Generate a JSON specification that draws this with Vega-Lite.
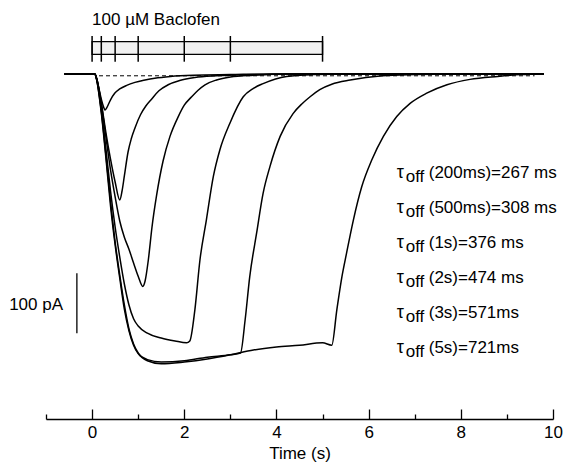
{
  "$schema": "https://vega.github.io/schema/vega-lite/v6.json",
  "width": 507,
  "height": 419,
  "autosize": {"type": "none"},
  "padding": {"left": 46, "top": 0, "right": 18, "bottom": 47},
  "config": {"view": {"stroke": null}, "font": "Liberation Sans"},
  "datasets": {
    "traces": [
      {"s":"200ms","t":-0.6,"v":0},{"s":"200ms","t":0.06,"v":0},{"s":"200ms","t":0.1,"v":-8},{"s":"200ms","t":0.15,"v":-25},{"s":"200ms","t":0.2,"v":-42},{"s":"200ms","t":0.25,"v":-55},{"s":"200ms","t":0.28,"v":-60},{"s":"200ms","t":0.32,"v":-56},{"s":"200ms","t":0.4,"v":-43},{"s":"200ms","t":0.49,"v":-32},{"s":"200ms","t":0.6,"v":-25},{"s":"200ms","t":0.75,"v":-19},{"s":"200ms","t":0.93,"v":-14},{"s":"200ms","t":1.15,"v":-10},{"s":"200ms","t":1.36,"v":-7},{"s":"200ms","t":1.7,"v":-4},{"s":"200ms","t":2.2,"v":-2},{"s":"200ms","t":3,"v":-1},{"s":"200ms","t":4,"v":0},{"s":"200ms","t":9.8,"v":0},
      {"s":"500ms","t":-0.6,"v":0},{"s":"500ms","t":0.06,"v":0},{"s":"500ms","t":0.1,"v":-8},{"s":"500ms","t":0.2,"v":-48},{"s":"500ms","t":0.3,"v":-98},{"s":"500ms","t":0.4,"v":-142},{"s":"500ms","t":0.5,"v":-180},{"s":"500ms","t":0.6,"v":-210},{"s":"500ms","t":0.65,"v":-195},{"s":"500ms","t":0.7,"v":-170},{"s":"500ms","t":0.78,"v":-130},{"s":"500ms","t":0.85,"v":-108},{"s":"500ms","t":0.93,"v":-90},{"s":"500ms","t":1.05,"v":-68},{"s":"500ms","t":1.17,"v":-53},{"s":"500ms","t":1.29,"v":-42},{"s":"500ms","t":1.45,"v":-28},{"s":"500ms","t":1.65,"v":-18},{"s":"500ms","t":1.9,"v":-11},{"s":"500ms","t":2.23,"v":-6},{"s":"500ms","t":2.7,"v":-3},{"s":"500ms","t":3.5,"v":-1},{"s":"500ms","t":4.5,"v":0},{"s":"500ms","t":9.8,"v":0},
      {"s":"1s","t":-0.6,"v":0},{"s":"1s","t":0.06,"v":0},{"s":"1s","t":0.1,"v":-8},{"s":"1s","t":0.2,"v":-50},{"s":"1s","t":0.3,"v":-105},{"s":"1s","t":0.4,"v":-160},{"s":"1s","t":0.5,"v":-205},{"s":"1s","t":0.6,"v":-245},{"s":"1s","t":0.7,"v":-272},{"s":"1s","t":0.8,"v":-292},{"s":"1s","t":0.9,"v":-315},{"s":"1s","t":1.0,"v":-337},{"s":"1s","t":1.1,"v":-354},{"s":"1s","t":1.15,"v":-345},{"s":"1s","t":1.22,"v":-310},{"s":"1s","t":1.3,"v":-255},{"s":"1s","t":1.4,"v":-202},{"s":"1s","t":1.54,"v":-145},{"s":"1s","t":1.69,"v":-104},{"s":"1s","t":1.87,"v":-71},{"s":"1s","t":2.0,"v":-52},{"s":"1s","t":2.16,"v":-38},{"s":"1s","t":2.3,"v":-27},{"s":"1s","t":2.45,"v":-18},{"s":"1s","t":2.7,"v":-10},{"s":"1s","t":3.0,"v":-5},{"s":"1s","t":3.5,"v":-2},{"s":"1s","t":4.2,"v":0},{"s":"1s","t":9.8,"v":0},
      {"s":"2s","t":-0.6,"v":0},{"s":"2s","t":0.06,"v":0},{"s":"2s","t":0.1,"v":-8},{"s":"2s","t":0.2,"v":-58},{"s":"2s","t":0.3,"v":-125},{"s":"2s","t":0.4,"v":-195},{"s":"2s","t":0.5,"v":-255},{"s":"2s","t":0.6,"v":-305},{"s":"2s","t":0.7,"v":-350},{"s":"2s","t":0.8,"v":-385},{"s":"2s","t":0.9,"v":-408},{"s":"2s","t":1.0,"v":-420},{"s":"2s","t":1.2,"v":-432},{"s":"2s","t":1.5,"v":-440},{"s":"2s","t":1.8,"v":-445},{"s":"2s","t":2.05,"v":-448},{"s":"2s","t":2.12,"v":-445},{"s":"2s","t":2.23,"v":-393},{"s":"2s","t":2.34,"v":-310},{"s":"2s","t":2.48,"v":-243},{"s":"2s","t":2.63,"v":-171},{"s":"2s","t":2.77,"v":-127},{"s":"2s","t":2.99,"v":-82},{"s":"2s","t":3.28,"v":-38},{"s":"2s","t":3.5,"v":-24},{"s":"2s","t":3.71,"v":-16},{"s":"2s","t":4.22,"v":-4},{"s":"2s","t":4.8,"v":-1},{"s":"2s","t":5.5,"v":0},{"s":"2s","t":9.8,"v":0},
      {"s":"3s","t":-0.6,"v":0},{"s":"3s","t":0.06,"v":0},{"s":"3s","t":0.1,"v":-10},{"s":"3s","t":0.2,"v":-65},{"s":"3s","t":0.3,"v":-140},{"s":"3s","t":0.4,"v":-220},{"s":"3s","t":0.5,"v":-285},{"s":"3s","t":0.6,"v":-340},{"s":"3s","t":0.7,"v":-392},{"s":"3s","t":0.8,"v":-428},{"s":"3s","t":0.9,"v":-452},{"s":"3s","t":1.0,"v":-466},{"s":"3s","t":1.2,"v":-476},{"s":"3s","t":1.5,"v":-480},{"s":"3s","t":2.0,"v":-478},{"s":"3s","t":2.5,"v":-472},{"s":"3s","t":3.0,"v":-468},{"s":"3s","t":3.22,"v":-465},{"s":"3s","t":3.32,"v":-410},{"s":"3s","t":3.42,"v":-338},{"s":"3s","t":3.57,"v":-265},{"s":"3s","t":3.71,"v":-199},{"s":"3s","t":3.86,"v":-154},{"s":"3s","t":4.08,"v":-104},{"s":"3s","t":4.36,"v":-66},{"s":"3s","t":4.55,"v":-50},{"s":"3s","t":4.73,"v":-38},{"s":"3s","t":4.94,"v":-26},{"s":"3s","t":5.2,"v":-17},{"s":"3s","t":5.6,"v":-10},{"s":"3s","t":6.3,"v":-3},{"s":"3s","t":7,"v":-1},{"s":"3s","t":7.8,"v":0},{"s":"3s","t":9.8,"v":0},
      {"s":"5s","t":-0.6,"v":0},{"s":"5s","t":0.06,"v":0},{"s":"5s","t":0.1,"v":-10},{"s":"5s","t":0.2,"v":-62},{"s":"5s","t":0.3,"v":-135},{"s":"5s","t":0.4,"v":-212},{"s":"5s","t":0.5,"v":-280},{"s":"5s","t":0.6,"v":-335},{"s":"5s","t":0.7,"v":-385},{"s":"5s","t":0.8,"v":-425},{"s":"5s","t":0.9,"v":-450},{"s":"5s","t":1.0,"v":-465},{"s":"5s","t":1.2,"v":-478},{"s":"5s","t":1.5,"v":-483},{"s":"5s","t":2.0,"v":-480},{"s":"5s","t":2.5,"v":-475},{"s":"5s","t":3.0,"v":-468},{"s":"5s","t":3.5,"v":-460},{"s":"5s","t":4.0,"v":-455},{"s":"5s","t":4.5,"v":-452},{"s":"5s","t":5.0,"v":-448},{"s":"5s","t":5.2,"v":-452},{"s":"5s","t":5.31,"v":-393},{"s":"5s","t":5.42,"v":-338},{"s":"5s","t":5.52,"v":-299},{"s":"5s","t":5.67,"v":-243},{"s":"5s","t":5.85,"v":-188},{"s":"5s","t":6.07,"v":-143},{"s":"5s","t":6.32,"v":-104},{"s":"5s","t":6.61,"v":-71},{"s":"5s","t":6.9,"v":-49},{"s":"5s","t":7.26,"v":-32},{"s":"5s","t":7.7,"v":-18},{"s":"5s","t":8.2,"v":-9},{"s":"5s","t":8.8,"v":-4},{"s":"5s","t":9.3,"v":-1},{"s":"5s","t":9.8,"v":0}
    ],
    "bar": [{"start": 0, "end": 5}],
    "marks": [{"t":0},{"t":0.2},{"t":0.5},{"t":1},{"t":2},{"t":3},{"t":5}],
    "labels": [
      {"k":1,"txt":"(200ms)=267 ms"},
      {"k":2,"txt":"(500ms)=308 ms"},
      {"k":3,"txt":"(1s)=376 ms"},
      {"k":4,"txt":"(2s)=474 ms"},
      {"k":5,"txt":"(3s)=571ms"},
      {"k":6,"txt":"(5s)=721ms"}
    ]
  },
  "layer": [
    {
      "layer": [
        {
          "data": {"name": "traces"},
          "mark": {"type": "line", "color": "black", "strokeWidth": 1.5, "interpolate": "monotone"},
          "encoding": {
            "x": {
              "field": "t", "type": "quantitative",
              "scale": {"domain": [-1, 10], "nice": false, "zero": false},
              "axis": {
                "title": "Time (s)",
                "values": [-1,0,1,2,3,4,5,6,7,8,9,10],
                "labelExpr": "datum.value % 2 === 0 ? datum.label : ''",
                "tickSize": {"condition": {"test": "datum.value % 2 === 0", "value": -10}, "value": -5},
                "grid": false,
                "domainColor": "black", "domainWidth": 1.3,
                "tickColor": "black", "tickWidth": 1.3,
                "labelColor": "black", "labelFontSize": 17, "labelFont": "Liberation Sans",
                "labelPadding": 15, "labelFlush": false, "labelOverlap": false,
                "titleFontSize": 17, "titleFontWeight": "normal", "titleColor": "black", "titleFont": "Liberation Sans",
                "titlePadding": 0
              }
            },
            "y": {"field": "v", "type": "quantitative", "scale": {"domain": [-575, 123.3], "nice": false, "zero": false}, "axis": null},
            "detail": {"field": "s"}
          }
        },
        {
          "data": {"name": "bar"},
          "mark": {"type": "rect", "fill": "#f1f1f1", "stroke": "black", "strokeWidth": 1.3},
          "encoding": {
            "x": {"field": "start", "type": "quantitative"},
            "x2": {"field": "end"},
            "y": {"datum": 32.8, "type": "quantitative", "axis": null},
            "y2": {"datum": 53.8}
          }
        },
        {
          "data": {"name": "marks"},
          "mark": {"type": "rule", "color": "black", "strokeWidth": 1.5},
          "encoding": {
            "x": {"field": "t", "type": "quantitative"},
            "y": {"datum": 20.5, "type": "quantitative", "axis": null},
            "y2": {"datum": 63.3}
          }
        },
        {
          "data": {"values": [{"label": "100 µM Baclofen"}]},
          "mark": {"type": "text", "align": "left", "baseline": "middle", "fontSize": 17, "color": "black"},
          "encoding": {
            "x": {"datum": 0, "type": "quantitative"},
            "y": {"datum": 90, "type": "quantitative", "axis": null},
            "text": {"field": "label"}
          }
        },
        {
          "data": {"values": [{"a": 1}]},
          "mark": {"type": "rule", "color": "black", "strokeWidth": 1, "strokeDash": [4, 3]},
          "encoding": {
            "x": {"datum": 0.15, "type": "quantitative"},
            "x2": {"datum": 9.6},
            "y": {"datum": -3, "type": "quantitative", "axis": null}
          }
        },
        {
          "data": {"values": [{"a": 1}]},
          "mark": {"type": "rule", "color": "black", "strokeWidth": 1.3},
          "encoding": {
            "x": {"datum": -0.33, "type": "quantitative"},
            "y": {"datum": -332, "type": "quantitative", "axis": null},
            "y2": {"datum": -432}
          }
        },
        {
          "data": {"values": [{"label": "100 pA"}]},
          "mark": {"type": "text", "align": "right", "baseline": "middle", "fontSize": 17, "color": "black"},
          "encoding": {
            "x": {"datum": -0.63, "type": "quantitative"},
            "y": {"datum": -385, "type": "quantitative", "axis": null},
            "text": {"field": "label"}
          }
        }
      ]
    },
    {
      "data": {"name": "labels"},
      "encoding": {
        "x": {"datum": 6.61, "type": "quantitative"},
        "y": {"field": "k", "type": "ordinal", "scale": {"type": "point", "range": [173, 348], "padding": 0}, "axis": null}
      },
      "layer": [
        {"mark": {"type": "text", "text": "τ", "align": "left", "baseline": "middle", "fontSize": 18, "color": "black"}},
        {"mark": {"type": "text", "text": "off", "align": "left", "baseline": "middle", "fontSize": 17, "dx": 9, "dy": 4, "color": "black"}},
        {"mark": {"type": "text", "align": "left", "baseline": "middle", "fontSize": 17, "dx": 32, "color": "black"}, "encoding": {"text": {"field": "txt"}}}
      ]
    }
  ],
  "resolve": {"scale": {"y": "independent"}}
}
